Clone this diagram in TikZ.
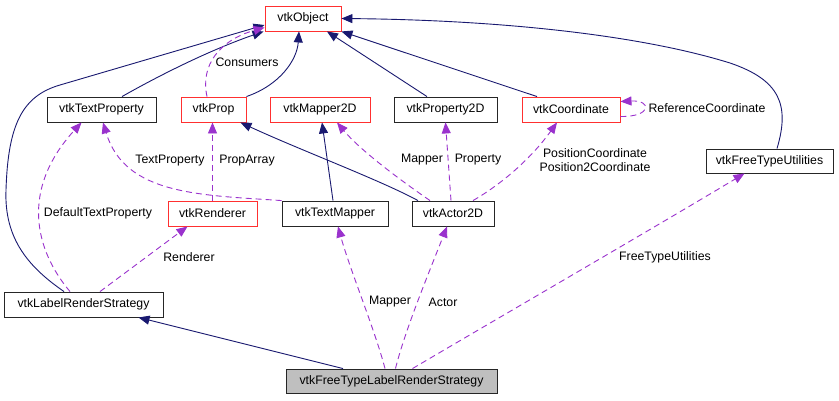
\documentclass[tikz,border=0pt]{standalone}
\usepackage{fontspec}
\setmainfont{Liberation Sans}
\usetikzlibrary{arrows.meta,calc}
\definecolor{navy}{HTML}{191970}
\definecolor{purp}{HTML}{9A32CD}
\definecolor{redb}{HTML}{FF3030}
\tikzset{
  cls/.style={draw=black!85, line width=0.9pt, inner sep=0pt, minimum height=25pt, font=\fontsize{12.3}{14}\selectfont},
  redcls/.style={cls, draw=redb},
  inh/.style={navy, line width=0.9pt, -{Triangle[length=11pt,width=9pt]}},
  assoc/.style={purp, line width=0.9pt, dash pattern=on 6pt off 4pt, -{Triangle[length=11pt,width=9pt]}},
  lbl/.style={font=\fontsize{12.3}{14}\selectfont, inner sep=0pt, align=center}
}
\begin{document}
\begin{tikzpicture}[x=1pt,y=-1pt]
\path[use as bounding box, fill=white] (0,0) rectangle (839,400);
% nodes
\node[redcls, minimum width=76pt] (obj) at (303,18.5) {vtkObject};
\node[cls, minimum width=109pt] (tprop) at (101.5,109.5) {vtkTextProperty};
\node[redcls, minimum width=65pt] (prop) at (213.5,109.5) {vtkProp};
\node[redcls, minimum width=100pt] (map2d) at (320,109.5) {vtkMapper2D};
\node[cls, minimum width=103pt] (prop2d) at (445.5,109.5) {vtkProperty2D};
\node[redcls, minimum width=98pt] (coord) at (571,109.5) {vtkCoordinate};
\node[cls, minimum width=127pt, minimum height=24pt] (ftu) at (769.5,161) {vtkFreeTypeUtilities};
\node[redcls, minimum width=89pt] (ren) at (212.5,213.5) {vtkRenderer};
\node[cls, minimum width=106pt] (tmap) at (335,213.5) {vtkTextMapper};
\node[cls, minimum width=82pt] (act) at (453,213.5) {vtkActor2D};
\node[cls, minimum width=159pt] (lrs) at (83.5,304.5) {vtkLabelRenderStrategy};
\node[cls, minimum width=211pt, minimum height=24pt, fill=black!25] (ftlrs) at (391.5,381) {vtkFreeTypeLabelRenderStrategy};
% inheritance edges
\draw[inh] ($(lrs.north)+(-19.5,0)$) .. controls (30,268) and (4,240) .. (6,190)
   .. controls (8,125) and (22,96) .. (60,85) -- ($(obj.west)+(0,6.5)$);
\draw[inh] ($(tprop.north)+(20.5,0)$) .. controls (160,75) and (210,50) .. ($(obj.south west)+(-1,0)$);
\draw[inh] (prop.north east) .. controls (280,85) and (297,60) .. ($(obj.south)+(-4,0)$);
\draw[inh] ($(prop2d.north)+(-18.5,0)$) -- ($(obj.south)+(24,0)$);
\draw[inh] ($(coord.north)+(-34,0)$) -- (obj.south east);
\draw[inh] ($(ftu.north)+(7.5,0)$) .. controls (790,105) and (780,80) .. (730,63)
   .. controls (640,35) and (500,20) .. (obj.east);
\draw[inh] ($(tmap.north)+(-2,0)$) -- ($(map2d.south)+(2,0)$);
\draw[inh] ($(act.north)+(-35,0)$) .. controls (380,180) and (300,150) .. ($(prop.south east)+(-6,0)$);
\draw[inh] ($(ftlrs.north)+(-48.5,0)$) -- ($(lrs.south)+(55,0)$);
% association edges
\draw[assoc] ($(prop.north)+(-6.5,0)$) .. controls (200,65) and (220,40) .. ($(obj.west)+(0,9)$);
\node[lbl] (lcons) at (247,62) {Consumers};
\draw[assoc] ($(coord.east)+(0,7)$) .. controls (652,117) and (652,100) .. ($(coord.east)+(0,-8)$);
\node[lbl] (lref) at (707,108) {ReferenceCoordinate};
\draw[assoc] ($(act.north)+(-23,0)$) .. controls (400,180) and (360,150) .. ($(map2d.south)+(17,0)$);
\node[lbl] (lmap) at (422,160) {Mapper};
\draw[assoc] ($(act.north)+(-2,0)$) -- (prop2d.south);
\node[lbl] (lprop) at (478,160) {Property};
\draw[assoc] ($(act.north)+(20,0)$) .. controls (500,185) and (530,160) .. ($(coord.south)+(-14,0)$);
\node[lbl] (lpos) at (595,160) {PositionCoordinate\\Position2Coordinate};
\draw[assoc] (tmap.north west) .. controls (200,195) and (125,195) .. ($(tprop.south)+(1.5,0)$);
\node[lbl] (ltp) at (170,161) {TextProperty};
\draw[assoc] (ren.north) -- ($(prop.south)+(-1,0)$);
\node[lbl] (lpa) at (247,161) {PropArray};
\draw[assoc] ($(lrs.north)+(-13.5,0)$) .. controls (35,250) and (20,190) .. ($(tprop.south)+(-20,0)$);
\node[lbl] (ldtp) at (98,213) {DefaultTextProperty};
\draw[assoc] ($(lrs.north)+(16.5,0)$) -- ($(ren.south)+(-25,0)$);
\node[lbl] (lren) at (189,257) {Renderer};
\draw[assoc] ($(ftlrs.north)+(-6.5,0)$) .. controls (375,330) and (350,270) .. ($(tmap.south)+(3,0)$);
\node[lbl] (lmap2) at (390,302) {Mapper};
\draw[assoc] ($(ftlrs.north)+(4,0)$) .. controls (405,330) and (430,270) .. ($(act.south)+(-6,0)$);
\node[lbl] (lact) at (443,302) {Actor};
\draw[assoc] ($(ftlrs.north)+(21,0)$) .. controls (500,317) and (650,230) .. ($(ftu.south)+(-25,0)$);
\node[lbl] (lftu) at (665,257) {FreeTypeUtilities};
\end{tikzpicture}
\end{document}
